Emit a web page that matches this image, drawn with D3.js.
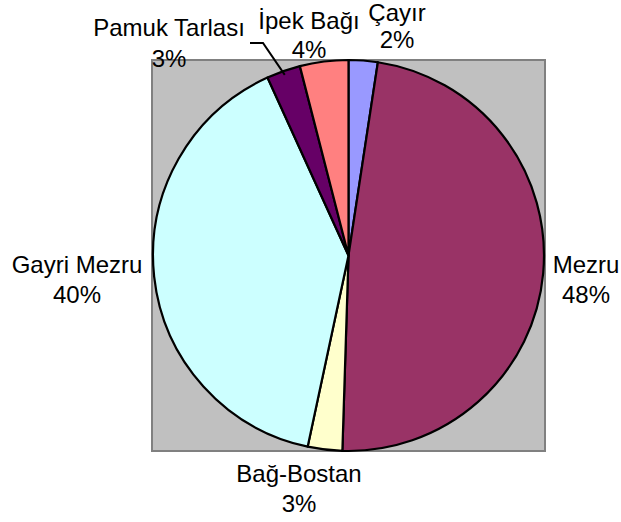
<!DOCTYPE html>
<html>
<head>
<meta charset="utf-8">
<script src="https://cdn.jsdelivr.net/npm/d3@7"></script>
<style>
  html, body { margin: 0; padding: 0; background: #ffffff; }
  svg { display: block; }
  text { font-family: "Liberation Sans", Arial, sans-serif; fill: #000; }
</style>
</head>
<body>
<svg id="chart" width="621" height="522"></svg>
<script>
// ---- Data ----
const categories = ["Çayır", "Mezru", "Bağ-Bostan", "Gayri Mezru", "Pamuk Tarlası", "İpek Bağı"];
const values = [2.4, 48.1, 2.85, 39.85, 2.8, 4.0];
const colors = ["#9999FF", "#993366", "#FFFFCC", "#CCFFFF", "#660066", "#FF8080"];

// ---- Layout (label anchors: x center, first baseline, line spacing) ----
const labelLayout = {
  "Çayır":         { x: 397, y: 21, dy: 27 },
  "Mezru":         { x: 586, y: 273, dy: 30 },
  "Bağ-Bostan":    { x: 299, y: 482, dy: 30 },
  "Gayri Mezru":   { x: 77,  y: 273, dy: 30 },
  "Pamuk Tarlası": { x: 169, y: 36, dy: 31 },
  "İpek Bağı":     { x: 309, y: 29, dy: 29 }
};
const leaderFor = "Pamuk Tarlası";

const svg = d3.select("#chart");

// Plot area
const plot = { x: 152, y: 60, w: 393, h: 391 };
svg.append("rect")
  .attr("x", plot.x).attr("y", plot.y)
  .attr("width", plot.w).attr("height", plot.h)
  .attr("fill", "#C0C0C0")
  .attr("stroke", "#808080")
  .attr("stroke-width", 2);

const cx = 348.5, cy = 255.5, r = 195.5;
const total = d3.sum(values);

const data = categories.map((c, i) => ({ name: c, value: values[i], color: colors[i] }));
const pie = d3.pie().sort(null).value(d => d.value);
const arcs = pie(data);
const arc = d3.arc().innerRadius(0).outerRadius(r);

const g = svg.append("g").attr("transform", `translate(${cx},${cy})`);
g.selectAll("path.slice")
  .data(arcs)
  .join("path")
  .attr("class", "slice")
  .attr("d", arc)
  .attr("fill", d => d.data.color)
  .attr("stroke", "#000")
  .attr("stroke-width", 2.2)
  .attr("stroke-linejoin", "round");

// Labels
const fmt = v => Math.round(v / total * 100) + "%";
arcs.forEach(a => {
  const L = labelLayout[a.data.name];
  const t = svg.append("text")
    .attr("text-anchor", "middle")
    .attr("font-size", "24px");
  t.append("tspan").attr("x", L.x).attr("y", L.y).text(a.data.name);
  t.append("tspan").attr("x", L.x).attr("y", L.y + L.dy).text(fmt(a.data.value));
});

// Leader line for small slice
const la = arcs.find(a => a.data.name === leaderFor);
const mid = (la.startAngle + la.endAngle) / 2;
const ex = cx + Math.sin(mid) * (r - 4);
const ey = cy - Math.cos(mid) * (r - 4);
svg.append("path")
  .attr("d", `M250,43 L263,43 L${ex},${ey}`)
  .attr("fill", "none")
  .attr("stroke", "#000")
  .attr("stroke-width", 2);
</script>
</body>
</html>
